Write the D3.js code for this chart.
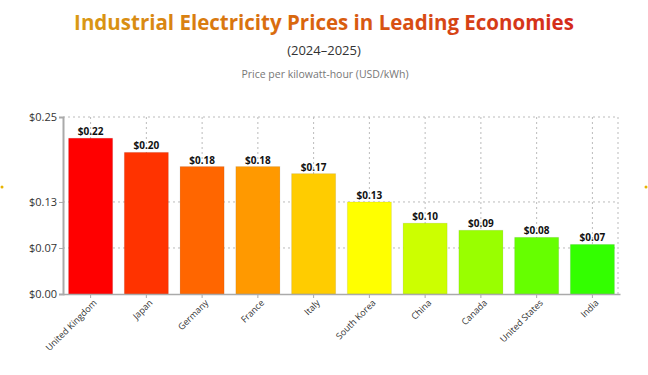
<!DOCTYPE html>
<html><head><meta charset="utf-8">
<script src="https://cdn.jsdelivr.net/npm/d3@7"></script>
<style>
body{margin:0;background:#fff;}
svg{display:block;}
text{font-family:"Open Sans","Noto Sans",sans-serif;}
</style></head>
<body><svg id="c" width="648" height="375"></svg>
<script>
const countries = ["United Kingdom","Japan","Germany","France","Italy","South Korea","China","Canada","United States","India"];
const prices = [0.22,0.20,0.18,0.18,0.17,0.13,0.10,0.09,0.08,0.07];
const barColors = ["#ff0000","#ff3300","#ff6600","#ff9900","#ffcc00","#ffff00","#ccff00","#99ff00","#66ff00","#33ff00"];
const yTicks = [0,0.065,0.13,0.25];
const yMax = 0.25;

const svg = d3.select("#c");
const m = {l:63, r:620, t:117, b:294};

const defs = svg.append("defs");
const g = defs.append("linearGradient").attr("id","tg").attr("x1","0%").attr("x2","100%");
g.append("stop").attr("offset","0%").attr("stop-color","#d99a14");
g.append("stop").attr("offset","45%").attr("stop-color","#d9660d");
g.append("stop").attr("offset","100%").attr("stop-color","#d42a1a");

svg.append("text").attr("x",324).attr("y",30).attr("text-anchor","middle")
  .attr("font-size",20.5).attr("font-weight","bold").attr("fill","url(#tg)")
  .text("Industrial Electricity Prices in Leading Economies");
svg.append("text").attr("x",324).attr("y",55).attr("text-anchor","middle")
  .attr("font-size",13).attr("fill","#333").text("(2024–2025)");
svg.append("text").attr("x",325).attr("y",78).attr("text-anchor","middle")
  .attr("font-size",10.5).attr("fill","#777").text("Price per kilowatt-hour (USD/kWh)");

const x = d3.scaleBand().domain(countries).range([m.l, m.r]).paddingInner(0.21).paddingOuter(0.1);
const y = d3.scaleLinear().domain([0,yMax]).range([m.b, m.t]);

// grid
const grid = svg.append("g").attr("stroke","#bbb").attr("stroke-dasharray","2,3").attr("stroke-width",1);
yTicks.filter(d=>d>0).forEach(t=>{
  grid.append("line").attr("x1",m.l).attr("x2",m.r-2).attr("y1",y(t)).attr("y2",y(t));
});
countries.forEach(c=>{
  const cx = x(c)+x.bandwidth()/2;
  grid.append("line").attr("x1",cx).attr("x2",cx).attr("y1",m.t).attr("y2",m.b);
});
grid.append("line").attr("x1",m.r-2).attr("x2",m.r-2).attr("y1",m.t).attr("y2",m.b);

// bars
svg.append("g").selectAll("rect").data(countries).join("rect")
  .attr("x",d=>x(d)).attr("width",x.bandwidth())
  .attr("y",(d,i)=>y(prices[i])).attr("height",(d,i)=>m.b-y(prices[i]))
  .attr("fill",(d,i)=>barColors[i])
  .attr("stroke","rgba(0,0,0,0.08)").attr("stroke-width",1);

// value labels
svg.append("g").selectAll("text").data(countries).join("text")
  .attr("x",d=>x(d)+x.bandwidth()/2).attr("y",(d,i)=>y(prices[i])-3)
  .attr("text-anchor","middle").attr("font-size",10).attr("font-weight","bold").attr("fill","#111")
  .text((d,i)=>"$"+prices[i].toFixed(2));

// axes
const yAxis = svg.append("g").attr("transform",`translate(${m.l},0)`)
  .call(d3.axisLeft(y).tickValues(yTicks).tickFormat(d=>"$"+d.toFixed(2)).tickSize(4).tickPadding(2));
yAxis.select(".domain").attr("stroke","#aaa").attr("stroke-width",2);
yAxis.selectAll(".tick line").attr("stroke","#aaa");
yAxis.selectAll("text").attr("font-size",11).attr("fill","#333").attr("font-family","'Open Sans',sans-serif");

const xAxis = svg.append("g").attr("transform",`translate(0,${m.b})`)
  .call(d3.axisBottom(x).tickSize(4).tickSizeOuter(0));
xAxis.select(".domain").attr("stroke","#aaa").attr("stroke-width",1.5);
xAxis.selectAll(".tick line").attr("stroke","#aaa");
xAxis.selectAll("text").attr("font-size",9).attr("fill","#333").attr("font-family","'Open Sans',sans-serif")
  .attr("text-anchor","end").attr("dx","-0.2em").attr("dy","0.5em")
  .attr("transform","rotate(-45)");

// edge markers
svg.append("circle").attr("cx",2).attr("cy",187).attr("r",1.5).attr("fill","#e8b400");
svg.append("circle").attr("cx",646).attr("cy",187).attr("r",1.5).attr("fill","#e8b400");
</script></body></html>
